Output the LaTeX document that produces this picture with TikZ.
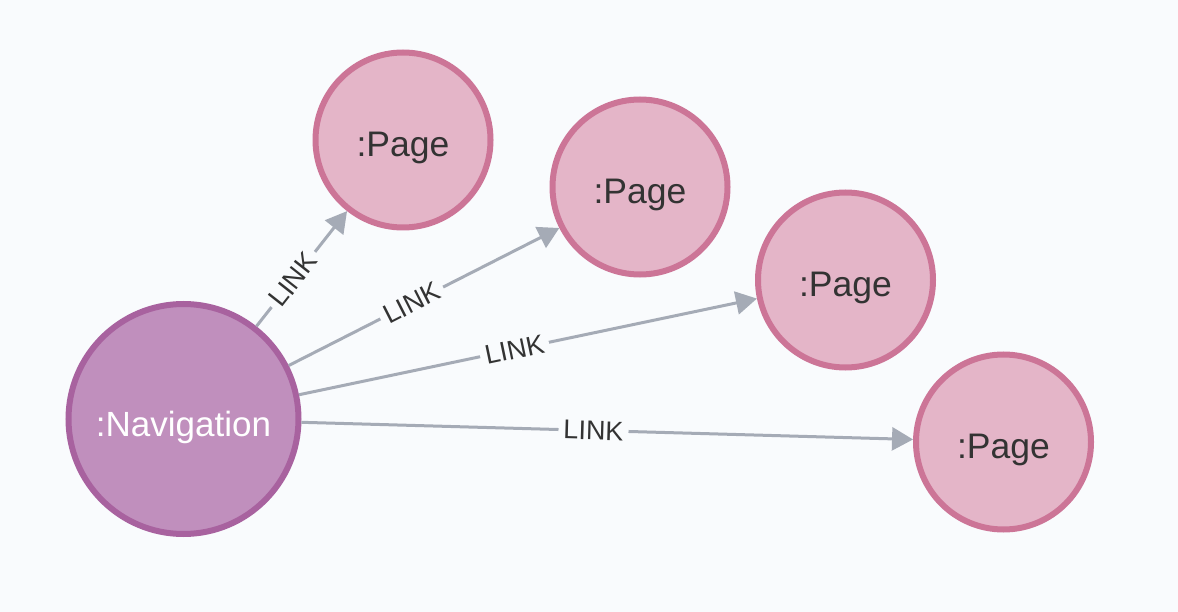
\documentclass[tikz,border=0pt]{standalone}
\usepackage{fontspec}
\setmainfont{Liberation Sans}
\usetikzlibrary{arrows.meta}
\definecolor{bg}{HTML}{F9FBFD}
\definecolor{navfill}{HTML}{C08FBD}
\definecolor{navdraw}{HTML}{A8629F}
\definecolor{pagefill}{HTML}{E4B5C8}
\definecolor{pagedraw}{HTML}{CC7597}
\definecolor{edgecol}{HTML}{A5ABB6}
\definecolor{txt}{HTML}{333333}
\newcommand\lowtext[1]{\raisebox{-8pt}[\height][\depth]{#1}}
\tikzset{
  navnode/.style={circle, fill=navfill, draw=navdraw, line width=6pt, minimum size=230pt, inner sep=0pt, text=white, font=\fontsize{35}{40}\selectfont},
  pagenode/.style={circle, fill=pagefill, draw=pagedraw, line width=6pt, minimum size=175pt, inner sep=0pt, text=txt, font=\fontsize{35.5}{40}\selectfont},
  edge/.style={draw=edgecol, line width=3pt, -{Triangle[length=21pt,width=23pt]}},
  lbl/.style={fill=bg, text=txt, inner sep=5pt, font=\fontsize{27}{32}\selectfont, sloped, midway}
}
\begin{document}
\begin{tikzpicture}[x=1pt,y=-1pt]
\fill[bg] (0,0) rectangle (1178,612);
\useasboundingbox (0,0) rectangle (1178,612);
\node[navnode] (nav) at (183.5,419) {\lowtext{:Navigation}};
\node[pagenode] (p1) at (403,140) {\lowtext{:Page}};
\node[pagenode] (p2) at (640,187) {\lowtext{:Page}};
\node[pagenode] (p3) at (845.5,280) {\lowtext{:Page}};
\node[pagenode] (p4) at (1003.5,442) {\lowtext{:Page}};
\draw[edge] (nav) -- (p1);
\draw[edge] (nav) -- (p2);
\draw[edge] (nav) -- (p3);
\draw[edge] (nav) -- (p4);
\path (nav.center) -- node[lbl] {LINK} (p1.center);
\path (nav.center) -- node[lbl] {LINK} (p2.center);
\path (nav.center) -- node[lbl] {LINK} (p3.center);
\path (nav.center) -- node[lbl] {LINK} (p4.center);
\end{tikzpicture}
\end{document}
